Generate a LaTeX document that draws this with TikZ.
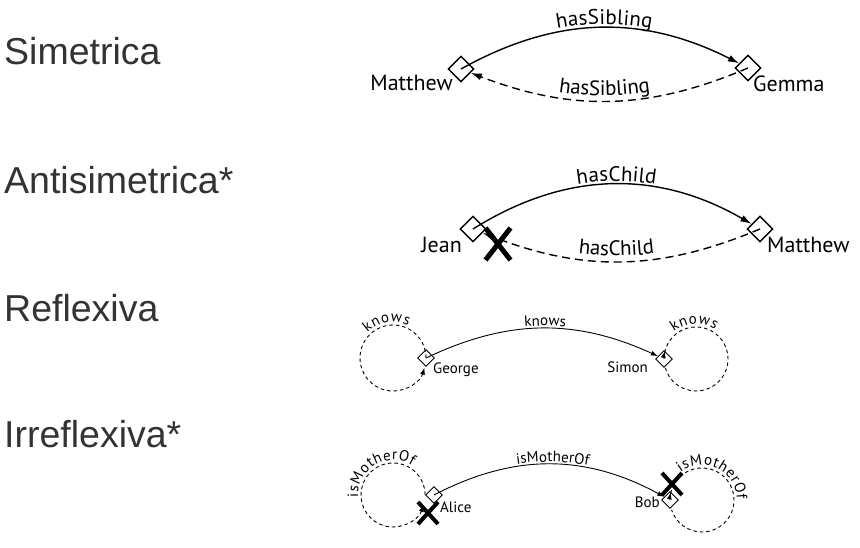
\documentclass[tikz,border=0pt]{standalone}
\usepackage{fontspec}
\setmainfont{PT Sans}
\newfontfamily\titlefont{Liberation Sans}
\usetikzlibrary{arrows.meta,shapes.geometric,shapes.misc,decorations.text,decorations.markings}

\definecolor{titlegray}{HTML}{333333}
\newcommand{\nametxt}{\fontsize{22}{26}\selectfont}
\newcommand{\bigtxt}{\fontsize{21}{25}\selectfont}
\newcommand{\smalltxt}{\fontsize{15}{18}\selectfont}

\tikzset{
  % row titles
  rowtitle/.style={font=\titlefont\fontsize{37.5}{45}\selectfont, text=titlegray, anchor=base west, inner sep=0pt},
  % individuals
  ind/.style={draw, diamond, inner sep=0pt, minimum width=26pt, minimum height=26pt, line width=1.4pt},
  indsmall/.style={draw, diamond, inner sep=0pt, minimum width=17pt, minimum height=17pt, line width=0.9pt},
  bigname/.style={font=\nametxt, inner sep=0pt},
  smallname/.style={font=\smalltxt, inner sep=0pt},
  % properties
  prop/.style={line width=1.4pt, -{Latex[length=11pt,width=7pt]}},
  propdash/.style={prop, dash pattern=on 8pt off 5pt},
  propsmall/.style={line width=0.9pt, -{Latex[length=7pt,width=5pt]}},
  selfdash/.style={line width=0.9pt, dash pattern=on 3.5pt off 3pt},
  selfmark/.style={postaction={decorate, decoration={markings,
      mark=at position #1 with {\arrow{Latex[length=7pt,width=5pt]}}}}},
  % labels along the edges
  biglabel/.style={postaction={decorate, decoration={text along path,
      text={|\bigtxt|#1}, text align=center, raise=4.5pt}}},
  smalllabel/.style={postaction={decorate, decoration={text along path,
      text={|\smalltxt|#1}, text align=center, raise=3pt}}},
  % negated axiom
  nope/.style={draw, cross out, inner sep=0pt, line width=#1},
}

\begin{document}
\begin{tikzpicture}[x=1pt, y=1pt]
  \useasboundingbox (0,0) rectangle (860,-548);

  % Row titles
  \node[rowtitle] (t1) at (4,-65)  {Simetrica};
  \node[rowtitle] (t2) at (4,-194) {Antisimetrica*};
  \node[rowtitle] (t3) at (4,-321) {Reflexiva};
  \node[rowtitle] (t4) at (4,-447) {Irreflexiva*};

  % Simetrica
  \node[ind] (m1) at (461,-69) {};
  \node[ind] (g1) at (748,-68) {};
  \node[bigname, anchor=base east] (m1name) at (453,-91) {Matthew};
  \node[bigname, anchor=base west] (g1name) at (753,-92) {Gemma};
  \draw[prop] (m1.center) to[bend left=28] (g1);
  \draw[propdash] (g1.center) to[bend left=22] (m1);
  \path[biglabel={hasSibling}] (m1.center) to[bend left=28] (g1.center);
  \path[biglabel={hasSibling}] (m1.center) to[bend right=22] (g1.center);

  % Antisimetrica
  \node[ind] (j2) at (473,-229) {};
  \node[ind] (mt2) at (760,-229) {};
  \node[bigname, anchor=base east] (j2name) at (462,-253) {Jean};
  \node[bigname, anchor=base west] (mt2name) at (767,-253) {Matthew};
  \draw[prop] (j2.center) to[bend left=31] (mt2);
  \draw[propdash] (mt2.center) to[bend left=22] (j2);
  \path[biglabel={hasChild}] (j2.center) to[bend left=31] (mt2.center);
  \path[biglabel={hasChild}] (j2.center) to[bend right=22] (mt2.center);
  \node[nope=5pt, minimum width=20pt, minimum height=27pt] (x2) at (498,-244) {};

  % Reflexiva
  \node[indsmall] (g3) at (426,-358) {};
  \node[indsmall] (s3) at (664,-359) {};
  \node[smallname, anchor=base west] (g3name) at (433,-373) {George};
  \node[smallname, anchor=base east] (s3name) at (648,-372) {Simon};
  \coordinate (c3l) at ([xshift=-33pt]g3.center);
  \coordinate (c3r) at ([xshift=32pt]s3.center);
  \draw[propsmall] (g3.center) to[bend left=25] (s3);
  \path[smalllabel={knows}] (g3.center) to[bend left=25] (s3.center);
  \draw[selfdash, -{Latex[length=7pt,width=5pt]}] (g3.center) arc[start angle=0, end angle=343, radius=33];
  \draw[selfdash, selfmark=0.042] (s3.center) arc[start angle=180, end angle=-165, radius=32];
  \path[smalllabel={knows}] ([shift={(150:33)}]c3l) arc[start angle=150, end angle=50, radius=33];
  \path[smalllabel={knows}] ([shift={(143:32)}]c3r) arc[start angle=143, end angle=43, radius=32];

  % Irreflexiva
  \node[indsmall] (a4) at (434,-495) {};
  \node[indsmall] (b4) at (670,-500) {};
  \node[smallname, anchor=base west] (a4name) at (440,-512) {Alice};
  \node[smallname, anchor=base east] (b4name) at (660,-507) {Bob};
  \coordinate (c4l) at ([xshift=-32pt]a4.west);
  \coordinate (c4r) at ([xshift=32pt]b4.center);
  \draw[propsmall] (a4.center) to[bend left=28] (b4);
  \path[smalllabel={isMotherOf}] (a4.center) to[bend left=28] (b4.center);
  \draw[selfdash, -{Latex[length=7pt,width=5pt]}] (a4.west) arc[start angle=0, end angle=342, radius=32];
  \draw[selfdash, selfmark=0.04] (b4.center) arc[start angle=180, end angle=-162, radius=32];
  \path[smalllabel={isMotherOf}] ([shift={(210:32)}]c4l) arc[start angle=210, end angle=30, radius=32];
  \path[smalllabel={isMotherOf}] ([shift={(154:32)}]c4r) arc[start angle=154, end angle=-26, radius=32];
  \node[nope=4pt, minimum width=16pt, minimum height=18pt] (x4a) at (428,-513) {};
  \node[nope=4pt, minimum width=16pt, minimum height=18pt] (x4b) at (672,-484) {};
\end{tikzpicture}
\end{document}
